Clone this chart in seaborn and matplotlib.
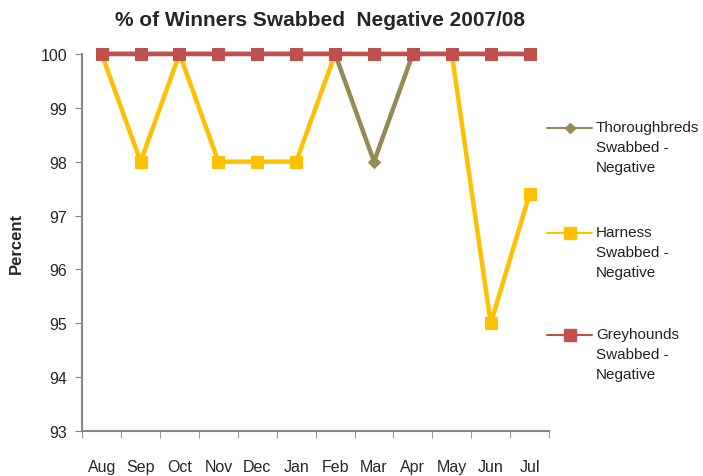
import matplotlib
matplotlib.use("Agg")
import matplotlib.pyplot as plt
import seaborn as sns
import pandas as pd
import numpy as np
from matplotlib.lines import Line2D

months = ["Aug", "Sep", "Oct", "Nov", "Dec", "Jan", "Feb", "Mar", "Apr", "May", "Jun", "Jul"]
thoroughbreds = [100, 100, 100, 100, 100, 100, 100, 98, 100, 100, 100, 100]
harness = [100, 98, 100, 98, 98, 98, 100, 100, 100, 100, 95, 97.4]
greyhounds = [100, 100, 100, 100, 100, 100, 100, 100, 100, 100, 100, 100]
series_labels = ["Thoroughbreds\nSwabbed -\nNegative", "Harness\nSwabbed -\nNegative", "Greyhounds\nSwabbed -\nNegative"]
yticks = [93, 94, 95, 96, 97, 98, 99, 100]

sns.set_style("white")
plt.rcParams['font.family'] = ['Liberation Sans', 'DejaVu Sans']

W, H = 703, 477
fig = plt.figure(figsize=(W / 100, H / 100), dpi=100)
ax = fig.add_axes([0.117, 0.094, 0.664, 0.791])

x = np.arange(len(months))
c_t, c_h, c_g = "#948A54", "#FFC000", "#C0504D"

sns.lineplot(x=x, y=thoroughbreds, ax=ax, color=c_t, lw=3.2, marker="D", markersize=6,
             markeredgecolor=c_t, zorder=2, clip_on=False)
sns.lineplot(x=x, y=harness, ax=ax, color=c_h, lw=3.2, marker="s", markersize=9,
             markeredgecolor=c_h, zorder=3, clip_on=False)
sns.lineplot(x=x, y=greyhounds, ax=ax, color=c_g, lw=3.2, marker="s", markersize=9,
             markeredgecolor=c_g, zorder=4, clip_on=False)

ax.set_xlim(-0.5, len(months) - 0.5)
ax.set_ylim(93, 100)
ax.set_yticks(yticks)
ax.set_yticklabels([str(v) for v in yticks], fontsize=11.5)
ax.set_xticks(x)
ax.set_xticklabels(months, fontsize=11.5)
ax.set_xticks(np.arange(-0.5, len(months)), minor=True)
ax.tick_params(axis="x", which="major", length=0, pad=20)
ax.tick_params(axis="x", which="minor", length=5, color="#868686", direction="out", bottom=True)
ax.tick_params(axis="y", length=5, color="#868686", direction="out", left=True, pad=6)
for s in ["top", "right"]:
    ax.spines[s].set_visible(False)
for s in ["left", "bottom"]:
    ax.spines[s].set_color("#868686")
    ax.spines[s].set_linewidth(1.5)
ax.set_ylabel("Percent", fontsize=12, fontweight="bold", labelpad=12)
ax.set_xlabel("")
fig.text(320 / W, 1 - 20 / H, "% of Winners Swabbed  Negative 2007/08", ha="center", va="center",
         fontsize=15, fontweight="bold")

# legend drawn manually: handle aligned with first text line
styles = [(c_t, "D", 5), (c_h, "s", 8), (c_g, "s", 8)]
ys = [129, 234, 336]
for (c, m, ms), yy, lab in zip(styles, ys, series_labels):
    yf = 1 - yy / H
    fig.add_artist(Line2D([547 / W, 592 / W], [yf, yf], color=c, lw=1.5,
                          transform=fig.transFigure))
    fig.add_artist(Line2D([569.5 / W], [yf], color=c, marker=m, markersize=ms,
                          markeredgecolor=c, transform=fig.transFigure))
    fig.text(596 / W, yf + 8 / H, lab, ha="left", va="top", fontsize=11,
             linespacing=1.55, color="#222222")

fig.savefig("out.png", dpi=100)
